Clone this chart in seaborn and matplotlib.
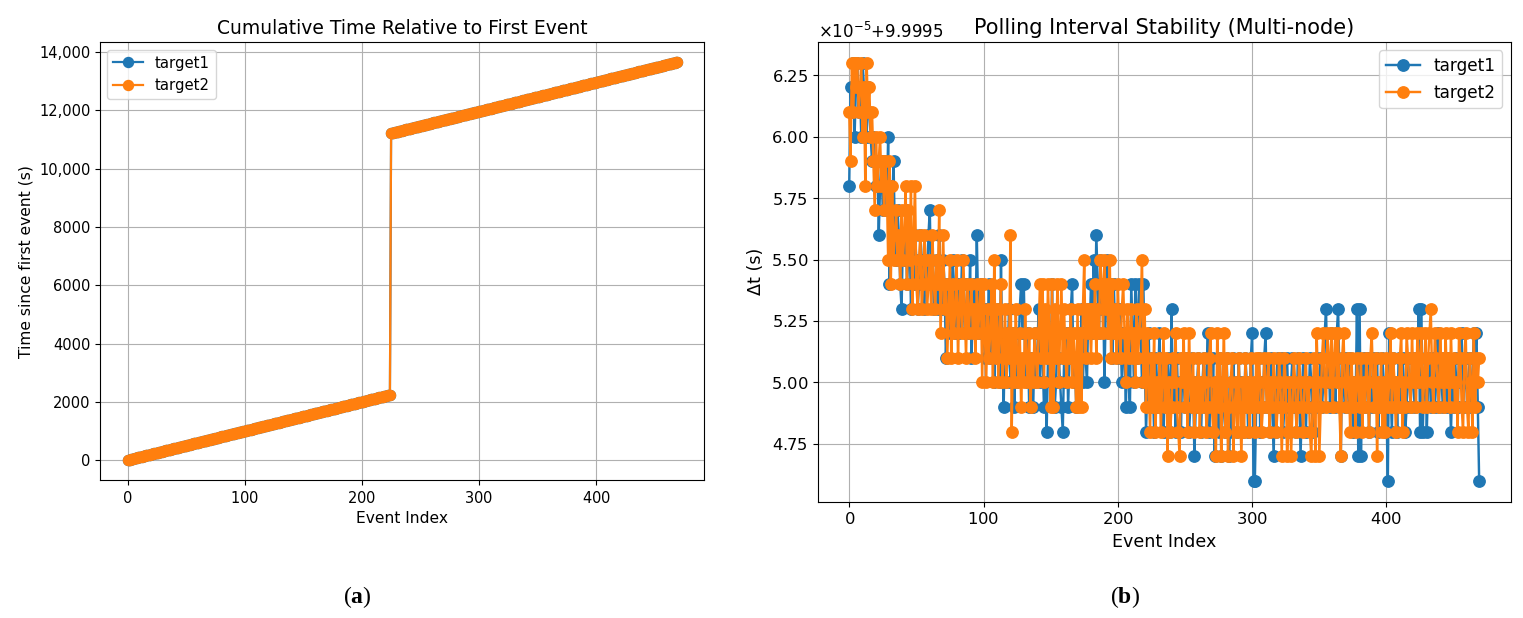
import numpy as np
import pandas as pd
import matplotlib
matplotlib.use("Agg")
import matplotlib.pyplot as plt
import matplotlib.ticker as mticker
import seaborn as sns

targets = ["target1", "target2"]
colors = ["#1f77b4", "#ff7f0e"]

# polling interval per event:
# microseconds above 9.9995 s (axis offset is x1e-5 + 9.9995)
base_interval = 9.9995
t1_us = [
    58, 62, 61, 63, 60, 62, 63, 61, 62, 60,
    63, 62, 61, 60, 62, 61, 60, 59, 60, 59,
    58, 59, 56, 58, 59, 57, 58, 59, 57, 60,
    54, 58, 57, 59, 56, 55, 57, 56, 54, 53,
    56, 55, 57, 54, 55, 56, 53, 55, 54, 56,
    55, 53, 54, 56, 55, 54, 53, 55, 54, 56,
    57, 54, 55, 53, 54, 55, 53, 56, 54, 53,
    55, 54, 51, 53, 54, 52, 53, 55, 54, 52,
    53, 54, 52, 53, 55, 54, 52, 53, 54, 52,
    55, 51, 53, 54, 52, 56, 53, 52, 54, 53,
    52, 51, 53, 52, 54, 51, 52, 53, 50, 52,
    51, 53, 50, 55, 51, 49, 52, 50, 51, 53,
    50, 52, 51, 49, 52, 50, 51, 53, 54, 52,
    54, 51, 50, 52, 49, 51, 50, 49, 52, 50,
    51, 53, 50, 52, 51, 49, 50, 48, 51, 52,
    50, 54, 51, 49, 50, 52, 51, 50, 49, 48,
    51, 50, 52, 49, 51, 53, 54, 50, 51, 49,
    52, 50, 51, 53, 50, 52, 51, 50, 53, 52,
    54, 52, 55, 53, 56, 54, 52, 55, 53, 54,
    50, 53, 55, 52, 54, 53, 51, 54, 52, 53,
    51, 53, 52, 50, 52, 51, 49, 52, 50, 49,
    54, 52, 50, 54, 51, 53, 54, 52, 50, 54,
    51, 48, 50, 52, 49, 51, 50, 48, 51, 49,
    50, 52, 49, 51, 48, 50, 49, 51, 50, 48,
    53, 49, 50, 48, 51, 49, 50, 48, 51, 50,
    49, 51, 50, 48, 49, 51, 50, 47, 49, 50,
    51, 49, 48, 50, 51, 49, 50, 52, 48, 50,
    49, 51, 47, 50, 49, 48, 51, 47, 50, 49,
    48, 51, 49, 47, 50, 48, 51, 49, 50, 48,
    51, 49, 50, 48, 49, 51, 50, 48, 49, 51,
    52, 46, 46, 49, 50, 51, 48, 50, 49, 51,
    52, 49, 50, 48, 51, 49, 47, 50, 48, 51,
    49, 50, 51, 48, 49, 50, 51, 49, 48, 50,
    51, 49, 50, 48, 51, 50, 47, 49, 51, 50,
    48, 50, 49, 51, 50, 48, 49, 50, 51, 49,
    50, 51, 49, 50, 52, 53, 50, 51, 49, 52,
    50, 51, 49, 52, 53, 50, 47, 51, 50, 49,
    51, 50, 49, 51, 50, 48, 50, 49, 53, 47,
    53, 47, 50, 51, 49, 50, 51, 48, 50, 49,
    51, 50, 49, 51, 48, 50, 49, 51, 50, 48,
    49, 46, 52, 50, 48, 51, 49, 50, 48, 51,
    50, 49, 51, 50, 48, 49, 51, 50, 49, 51,
    50, 49, 51, 50, 53, 48, 53, 48, 50, 51,
    48, 50, 51, 49, 50, 51, 49, 50, 52, 49,
    51, 50, 49, 51, 50, 49, 51, 50, 48, 50,
    49, 51, 50, 49, 51, 50, 52, 49, 50, 51,
    49, 50, 51, 49, 50, 52, 51, 52, 49, 46,
]
t2_us = [
    61, 59, 63, 61, 63, 62, 63, 61, 62, 63,
    60, 62, 58, 63, 61, 62, 60, 61, 59, 57,
    60, 58, 59, 60, 58, 59, 57, 59, 58, 55,
    59, 54, 58, 55, 56, 57, 55, 56, 54, 57,
    55, 56, 58, 54, 57, 55, 58, 53, 56, 58,
    54, 53, 55, 56, 53, 54, 56, 55, 53, 54,
    55, 53, 56, 54, 53, 55, 54, 57, 52, 54,
    56, 53, 54, 51, 53, 55, 51, 54, 52, 53,
    55, 51, 53, 54, 52, 55, 53, 51, 54, 52,
    53, 54, 52, 53, 51, 54, 52, 53, 54, 50,
    54, 52, 50, 53, 51, 52, 54, 50, 55, 51,
    53, 50, 52, 54, 50, 51, 53, 50, 52, 51,
    56, 48, 52, 50, 53, 51, 50, 52, 49, 51,
    50, 53, 51, 50, 52, 49, 51, 50, 52, 51,
    50, 52, 54, 51, 54, 50, 53, 51, 54, 52,
    49, 54, 49, 53, 51, 54, 50, 52, 54, 51,
    53, 51, 50, 52, 51, 53, 50, 52, 51, 49,
    53, 49, 52, 49, 53, 55, 51, 53, 52, 53,
    51, 53, 52, 54, 51, 53, 52, 55, 54, 52,
    55, 53, 54, 52, 55, 51, 54, 52, 53, 51,
    54, 52, 51, 53, 54, 52, 50, 53, 51, 52,
    53, 51, 52, 50, 53, 51, 52, 53, 55, 50,
    53, 49, 52, 50, 48, 51, 49, 52, 48, 50,
    49, 51, 48, 50, 52, 49, 51, 47, 50, 48,
    49, 51, 50, 52, 49, 48, 47, 51, 50, 52,
    49, 51, 48, 52, 50, 49, 51, 48, 50, 49,
    51, 48, 50, 49, 51, 50, 48, 49, 51, 52,
    49, 48, 50, 47, 52, 49, 51, 47, 50, 52,
    48, 51, 47, 49, 50, 51, 47, 49, 50, 48,
    51, 49, 47, 50, 48, 51, 49, 50, 48, 51,
    49, 50, 48, 51, 49, 51, 50, 48, 49, 51,
    50, 49, 51, 48, 50, 49, 51, 50, 48, 49,
    51, 50, 47, 49, 51, 50, 47, 48, 50, 47,
    49, 51, 50, 48, 49, 51, 50, 49, 48, 50,
    51, 49, 50, 48, 47, 49, 51, 47, 52, 50,
    47, 49, 51, 52, 50, 49, 52, 51, 50, 52,
    49, 51, 52, 50, 52, 49, 47, 51, 52, 50,
    49, 51, 50, 48, 51, 49, 50, 48, 51, 50,
    49, 51, 48, 50, 49, 51, 50, 48, 51, 52,
    50, 49, 51, 47, 50, 49, 51, 48, 50, 48,
    51, 49, 50, 52, 49, 51, 50, 48, 50, 49,
    51, 52, 48, 50, 49, 52, 51, 50, 49, 52,
    50, 51, 49, 52, 50, 51, 52, 49, 50, 52,
    49, 51, 52, 53, 50, 49, 52, 51, 50, 49,
    52, 50, 51, 49, 52, 50, 51, 49, 52, 50,
    51, 49, 50, 48, 52, 51, 49, 48, 51, 52,
    49, 48, 51, 50, 48, 52, 49, 51, 50, 51,
]

# long pause seen in the cumulative plot (same for both nodes)
gap_event = 225
gap_seconds = 8965.0

frames = []
for name, us in zip(targets, [t1_us, t2_us]):
    dt = base_interval + np.array(us) * 1e-6
    elapsed = np.concatenate([[0.0], np.cumsum(dt[:-1])])
    elapsed[gap_event:] += gap_seconds
    frames.append(pd.DataFrame({
        "event": np.arange(len(dt)),
        "dt": dt,
        "elapsed": elapsed,
        "target": name,
    }))
df = pd.concat(frames, ignore_index=True)

plt.rcParams["axes.formatter.use_mathtext"] = True
plt.rcParams["mathtext.fontset"] = "custom"
plt.rcParams["mathtext.bf"] = "Liberation Serif:bold"

fig = plt.figure(figsize=(15.23, 6.18), dpi=100)
ax1 = fig.add_axes([0.0657, 0.2233, 0.3968, 0.7083])
ax2 = fig.add_axes([0.5369, 0.1882, 0.4550, 0.7439])

line_kw = dict(hue="target", hue_order=targets, palette=colors, marker="o",
               markeredgecolor="auto", markeredgewidth=1,
               estimator=None, errorbar=None)

# ---- (a) cumulative time ----
sns.lineplot(data=df, x="event", y="elapsed", ax=ax1,
             markersize=7.2, linewidth=1.6, **line_kw)
ax1.set_title("Cumulative Time Relative to First Event", fontsize=13.5)
ax1.set_xlabel("Event Index", fontsize=11.2)
ax1.set_ylabel("Time since first event (s)", fontsize=11.2)
ax1.tick_params(labelsize=10.5)
ax1.yaxis.set_major_formatter(mticker.FuncFormatter(
    lambda v, p: f"{v:,.0f}" if abs(v) >= 10000 else f"{v:.0f}"))
ax1.grid(True)
sns.move_legend(ax1, "upper left", title=None, fontsize=10.7)

# ---- (b) interval stability ----
sns.lineplot(data=df, x="event", y="dt", ax=ax2,
             markersize=8.2, linewidth=1.75, **line_kw)
ax2.set_title("Polling Interval Stability (Multi-node)", fontsize=15)
ax2.set_xlabel("Event Index", fontsize=12.6)
ax2.set_ylabel("Δt (s)", fontsize=12.6)
ax2.tick_params(labelsize=11.8)
ax2.yaxis.get_offset_text().set_fontsize(12)
ax2.grid(True)
sns.move_legend(ax2, "upper right", title=None, fontsize=12.2)

fig.text(357 / 1523, 1 - 597 / 618, r"($\mathbf{a}$)", ha="center", va="center",
         family="Liberation Serif", fontsize=17)
fig.text(1125 / 1523, 1 - 597 / 618, r"($\mathbf{b}$)", ha="center", va="center",
         family="Liberation Serif", fontsize=17)

fig.savefig("out.png", dpi=100)
